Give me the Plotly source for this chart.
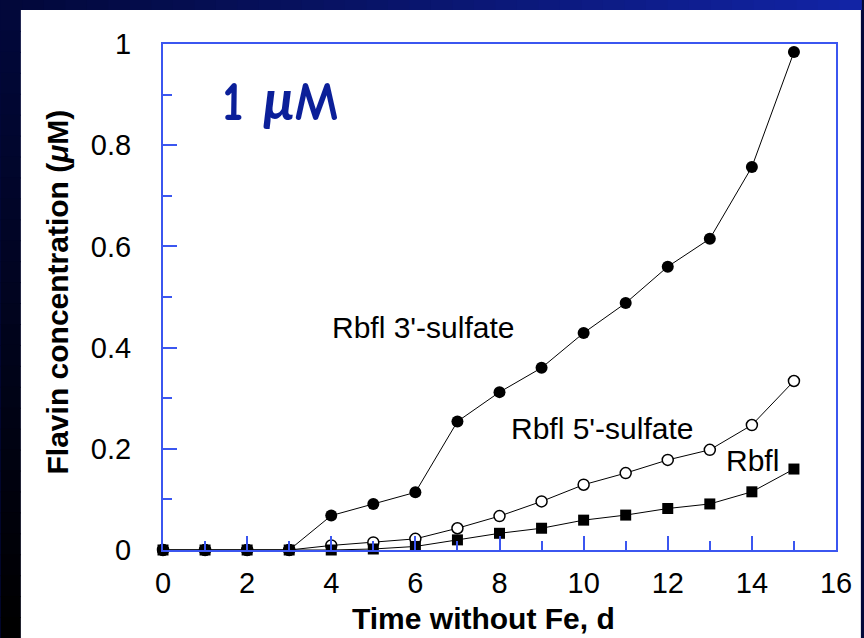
import plotly.graph_objects as go

days = list(range(16))
sulfate3 = [0, 0, 0, 0, 0.068, 0.091, 0.114, 0.254, 0.312, 0.360, 0.429, 0.488, 0.560, 0.615, 0.757, 0.984]
sulfate5 = [0, 0, 0, 0, 0.009, 0.015, 0.022, 0.043, 0.067, 0.096, 0.129, 0.152, 0.178, 0.198, 0.247, 0.334]
rbfl = [0, 0, 0, 0, 0, 0.002, 0.007, 0.020, 0.033, 0.043, 0.059, 0.069, 0.082, 0.091, 0.115, 0.160]

FONT = "Liberation Sans, Arial, Helvetica, sans-serif"
AX = "#3b56f0"

fig = go.Figure()
fig.add_trace(go.Scatter(x=days, y=sulfate3, mode="lines+markers",
                         line=dict(color="black", width=1),
                         marker=dict(symbol="circle", size=12, color="black"),
                         cliponaxis=False, showlegend=False))
fig.add_trace(go.Scatter(x=days, y=sulfate5, mode="lines+markers",
                         line=dict(color="black", width=1),
                         marker=dict(symbol="circle", size=11, color="white",
                                     line=dict(color="black", width=1.5)),
                         cliponaxis=False, showlegend=False))
fig.add_trace(go.Scatter(x=days, y=rbfl, mode="lines+markers",
                         line=dict(color="black", width=1),
                         marker=dict(symbol="square", size=11, color="black"),
                         cliponaxis=False, showlegend=False))

# background: white slide area with dark navy frame
shapes = []
L, R, T, B = 163, 839, 44, 550
W, H = R - L, B - T
def px(xp):
    return (xp - L) / W
def py(yp):
    return (B - yp) / H

shapes.append(dict(type="rect", xref="paper", yref="paper", layer="below",
                   x0=px(20), x1=px(864), y0=py(638), y1=py(10),
                   fillcolor="white", line=dict(width=0)))
# top band gradient
n = 40
c0 = (2, 8, 58)
c1 = (18, 36, 165)
for i in range(n):
    t = i / (n - 1)
    col = tuple(int(c0[k] + (c1[k] - c0[k]) * t) for k in range(3))
    x0 = i * 864 / n
    x1 = (i + 1) * 864 / n + 1
    shapes.append(dict(type="rect", xref="paper", yref="paper", layer="below",
                       x0=px(x0), x1=px(x1), y0=py(10), y1=py(0),
                       fillcolor="rgb(%d,%d,%d)" % col, line=dict(width=0)))
# left strip gradient
m = 30
d0 = (2, 8, 58)
d1 = (0, 0, 0)
for i in range(m):
    t = i / (m - 1)
    col = tuple(int(d0[k] + (d1[k] - d0[k]) * t) for k in range(3))
    y0 = 10 + i * 628 / m
    y1 = 10 + (i + 1) * 628 / m + 1
    shapes.append(dict(type="rect", xref="paper", yref="paper", layer="below",
                       x0=px(0), x1=px(20), y0=py(y1), y1=py(y0),
                       fillcolor="rgb(%d,%d,%d)" % col, line=dict(width=0)))

annotations = [
    dict(text="Rbfl 3'-sulfate", x=6.17, y=0.44, xref="x", yref="y",
         showarrow=False, font=dict(family=FONT, size=30, color="black"),
         xanchor="center", yanchor="middle"),
    dict(text="Rbfl 5'-sulfate", x=10.44, y=0.241, xref="x", yref="y",
         showarrow=False, font=dict(family=FONT, size=30, color="black"),
         xanchor="center", yanchor="middle"),
    dict(text="Rbfl", x=14.01, y=0.176, xref="x", yref="y",
         showarrow=False, font=dict(family=FONT, size=30, color="black"),
         xanchor="center", yanchor="middle"),
    dict(text="<b>1 <i>μ</i>M</b>", x=px(281), y=py(102), xref="paper", yref="paper",
         showarrow=False, font=dict(family="Comic Sans MS, Comic Neue, Lato, sans-serif", size=55, color="#0b1f99"),
         xanchor="center", yanchor="middle"),
    dict(text="<b>Time without Fe, d</b>", x=px(485), y=py(619), xref="paper", yref="paper",
         showarrow=False, font=dict(family=FONT, size=30, color="black"),
         xanchor="center", yanchor="middle"),
    dict(text="<b>Flavin concentration (<i>μ</i>M)</b>", x=px(57), y=py(292), xref="paper", yref="paper",
         showarrow=False, textangle=-90, font=dict(family=FONT, size=30, color="black"),
         xanchor="center", yanchor="middle"),
]

fig.update_layout(
    width=864, height=638,
    margin=dict(l=L, r=864 - R, t=T, b=638 - B, pad=0),
    paper_bgcolor="rgb(2,8,58)",
    plot_bgcolor="white",
    shapes=shapes,
    annotations=annotations,
    font=dict(family=FONT, size=29, color="black"),
)
fig.update_xaxes(range=[0, 16], dtick=2, tick0=0, showgrid=False, zeroline=False,
                 showline=True, linecolor=AX, linewidth=2, mirror=True,
                 ticks="inside", ticklen=14, tickwidth=2, tickcolor=AX,
                 ticklabelstandoff=6,
                 minor=dict(dtick=1, ticks="inside", ticklen=9, tickwidth=2, tickcolor=AX, showgrid=False),
                 tickfont=dict(family=FONT, size=29, color="black"))
fig.update_yaxes(range=[0, 1], dtick=0.2, tick0=0, showgrid=False, zeroline=False,
                 showline=True, linecolor=AX, linewidth=2, mirror=True,
                 ticks="inside", ticklen=14, tickwidth=2, tickcolor=AX,
                 ticklabelstandoff=24,
                 minor=dict(dtick=0.1, ticks="inside", ticklen=9, tickwidth=2, tickcolor=AX, showgrid=False),
                 tickfont=dict(family=FONT, size=29, color="black"))

fig.write_html("out.html")
